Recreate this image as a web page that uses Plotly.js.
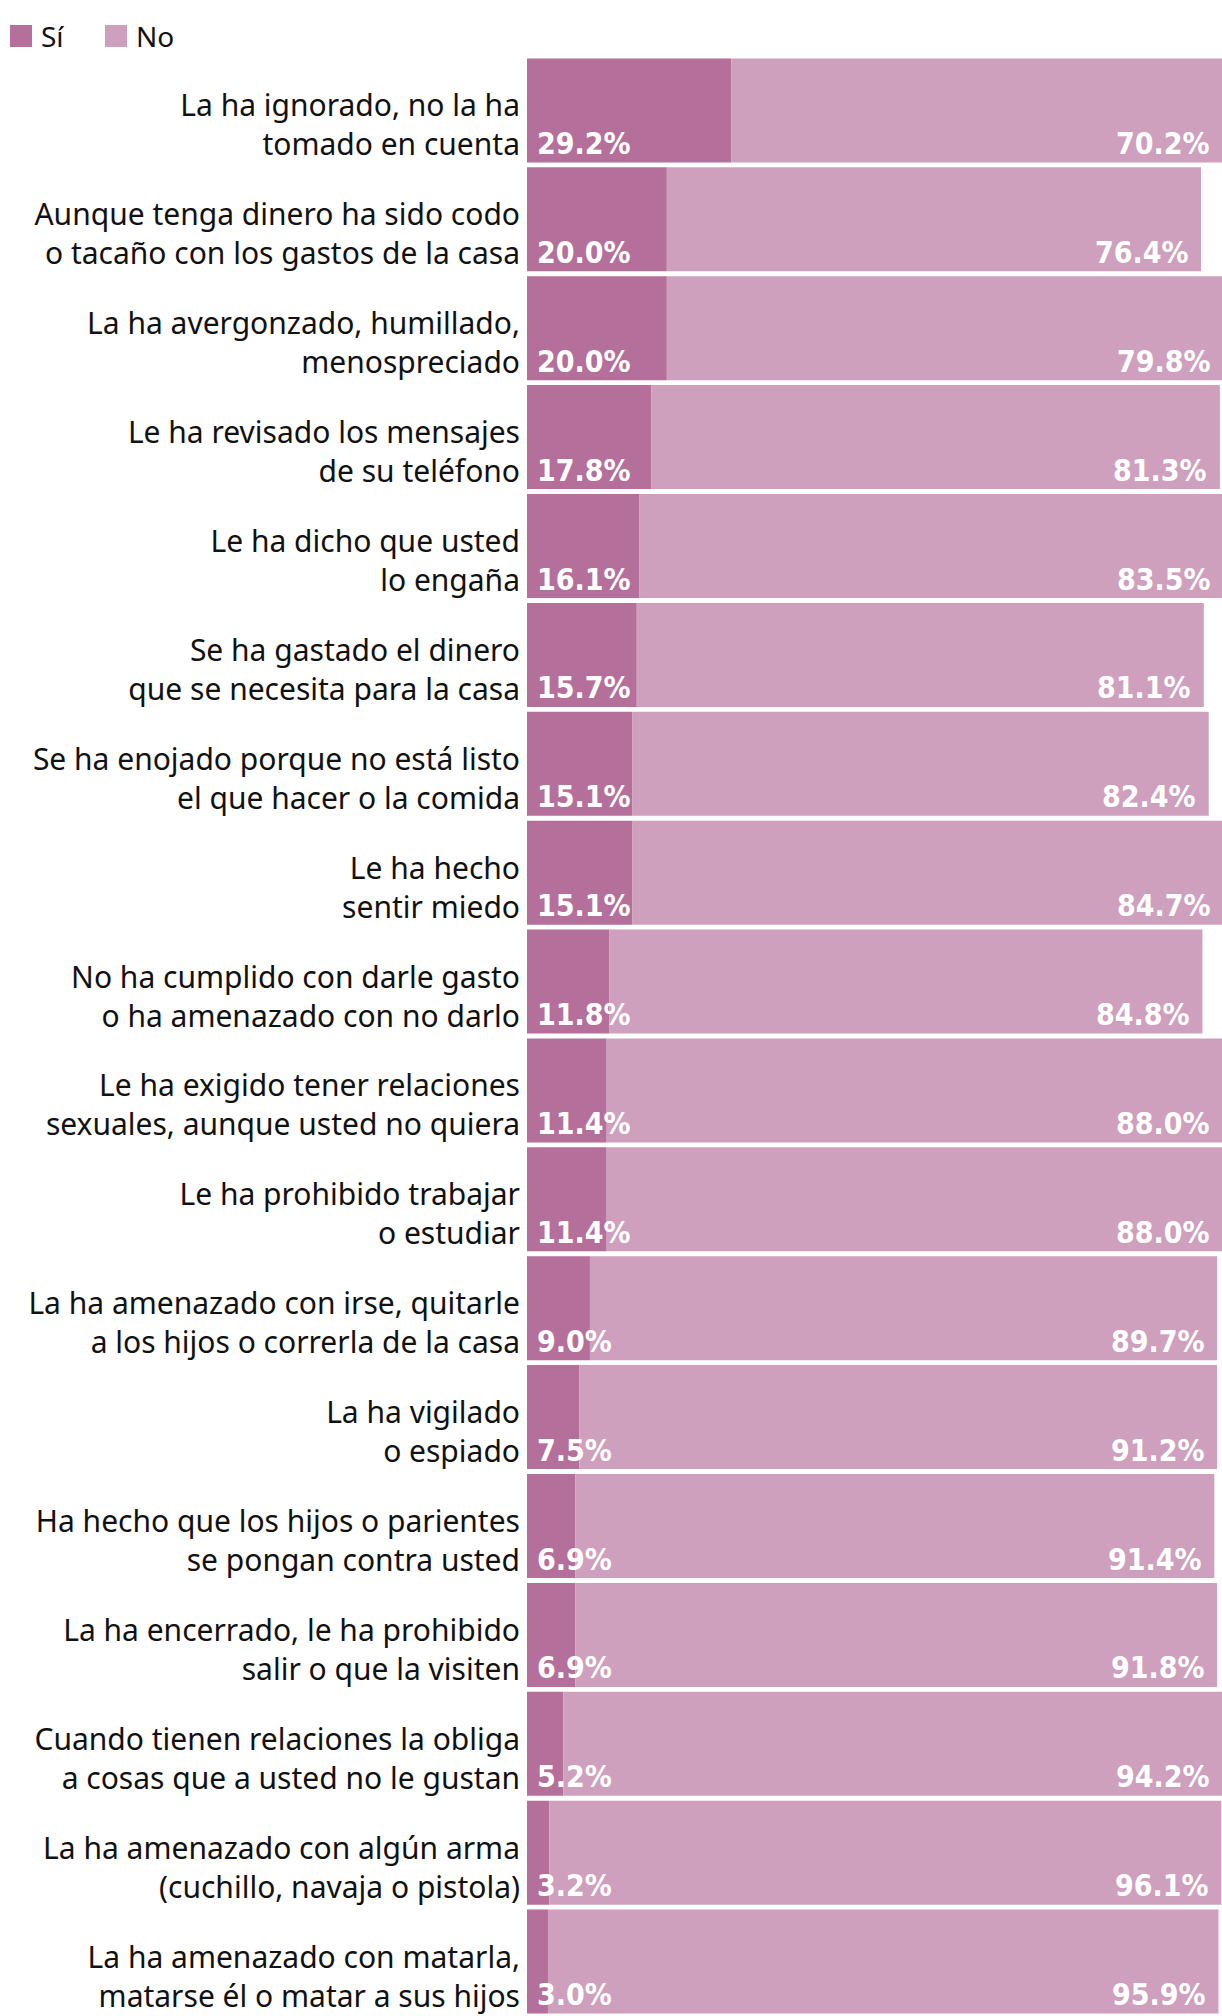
<!DOCTYPE html>
<html>
<head>
<meta charset="utf-8">
<script src="https://cdn.plot.ly/plotly-3.0.1.min.js"></script>
<style>html,body{margin:0;padding:0;background:#fff;}#chart{width:1222px;height:2016px;}</style>
</head>
<body>
<div id="chart"></div>
<script>
var categories = [
  "La ha ignorado, no la ha<br>tomado en cuenta",
  "Aunque tenga dinero ha sido codo<br>o tacaño con los gastos de la casa",
  "La ha avergonzado, humillado,<br>menospreciado",
  "Le ha revisado los mensajes<br>de su teléfono",
  "Le ha dicho que usted<br>lo engaña",
  "Se ha gastado el dinero<br>que se necesita para la casa",
  "Se ha enojado porque no está listo<br>el que hacer o la comida",
  "Le ha hecho<br>sentir miedo",
  "No ha cumplido con darle gasto<br>o ha amenazado con no darlo",
  "Le ha exigido tener relaciones<br>sexuales, aunque usted no quiera",
  "Le ha prohibido trabajar<br>o estudiar",
  "La ha amenazado con irse, quitarle<br>a los hijos o correrla de la casa",
  "La ha vigilado<br>o espiado",
  "Ha hecho que los hijos o parientes<br>se pongan contra usted",
  "La ha encerrado, le ha prohibido<br>salir o que la visiten",
  "Cuando tienen relaciones la obliga<br>a cosas que a usted no le gustan",
  "La ha amenazado con algún arma<br>(cuchillo, navaja o pistola)",
  "La ha amenazado con matarla,<br>matarse él o matar a sus hijos"
];
var si = [29.2, 20.0, 20.0, 17.8, 16.1, 15.7, 15.1, 15.1, 11.8, 11.4, 11.4, 9.0, 7.5, 6.9, 6.9, 5.2, 3.2, 3.0];
var no = [70.2, 76.4, 79.8, 81.3, 83.5, 81.1, 82.4, 84.7, 84.8, 88.0, 88.0, 89.7, 91.2, 91.4, 91.8, 94.2, 96.1, 95.9];
var seriesNames = ["Sí", "No"];

var colSi = "#b56f9b";
var colNo = "#cea0bd";
var W = 1222, H = 2016, ML = 527, MT = 56;
var XMAX = 99.4;
var labelFont = "Noto Sans, Open Sans, sans-serif";
var numFont = "Liberation Sans Narrow, DejaVu Sans Condensed, Arial Narrow, sans-serif";

var idx = categories.map(function(c, i){ return i; });

var traces = [
  {type: "bar", orientation: "h", name: seriesNames[0], y: idx, x: si,
   marker: {color: colSi}, hoverinfo: "skip", showlegend: false},
  {type: "bar", orientation: "h", name: seriesNames[1], y: idx, x: no, base: si,
   marker: {color: colNo}, hoverinfo: "skip", showlegend: false}
];

var annotations = [];
for (var i = 0; i < categories.length; i++) {
  annotations.push({x: 0, y: i, xref: "x", yref: "y", text: si[i].toFixed(1) + "%",
    showarrow: false, xanchor: "left", yanchor: "middle", xshift: 8, yshift: -33,
    font: {family: numFont, size: 30, color: "#ffffff", weight: "bold"}});
  annotations.push({x: Math.min(si[i] + no[i] - 1.5, XMAX - 1.3), y: i, xref: "x", yref: "y",
    text: no[i].toFixed(1) + "%",
    showarrow: false, xanchor: "right", yanchor: "middle", xshift: 0, yshift: -33,
    font: {family: numFont, size: 30, color: "#ffffff", weight: "bold"}});
}

// legend drawn in paper coordinates
var PW = W - ML, PH = H - MT;
function px2x(p){ return (p - ML) / PW; }
function py2y(p){ return 1 - (p - MT) / PH; }
var shapes = [
  {type: "rect", xref: "paper", yref: "paper", x0: px2x(10), x1: px2x(32), y0: py2y(47), y1: py2y(25),
   fillcolor: colSi, line: {width: 0}},
  {type: "rect", xref: "paper", yref: "paper", x0: px2x(105), x1: px2x(127), y0: py2y(47), y1: py2y(25),
   fillcolor: colNo, line: {width: 0}}
];
annotations.push({xref: "paper", yref: "paper", x: px2x(39), y: py2y(36), text: seriesNames[0],
  showarrow: false, xanchor: "left", yanchor: "middle", font: {family: labelFont, size: 28, color: "#111"}});
annotations.push({xref: "paper", yref: "paper", x: px2x(134), y: py2y(36), text: seriesNames[1],
  showarrow: false, xanchor: "left", yanchor: "middle", font: {family: labelFont, size: 28, color: "#111"}});

var layout = {
  width: W, height: H,
  margin: {l: ML, r: 0, t: MT, b: 0, pad: 0},
  paper_bgcolor: "#ffffff", plot_bgcolor: "#ffffff",
  barmode: "overlay", bargap: 0.045,
  showlegend: false,
  xaxis: {range: [0, XMAX], visible: false, fixedrange: true},
  yaxis: {type: "linear", range: [categories.length - 0.5, -0.5], tickmode: "array",
    tickvals: idx, ticktext: categories, showgrid: false, zeroline: false, showline: false,
    ticks: "", ticklabelstandoff: 6, ticklabelshift: -15,
    tickfont: {family: labelFont, size: 30, color: "#111"}, fixedrange: true},
  annotations: annotations,
  shapes: shapes
};

Plotly.newPlot("chart", traces, layout, {staticPlot: true, displayModeBar: false});
</script>
</body>
</html>
